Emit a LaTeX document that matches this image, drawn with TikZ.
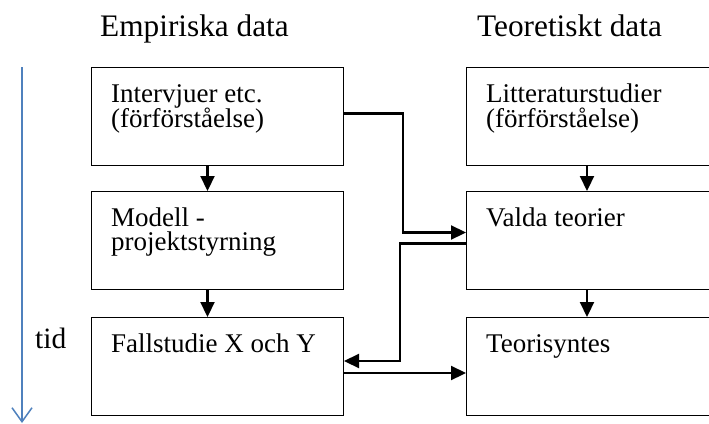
\documentclass[tikz,border=0pt]{standalone}
\usepackage{fontspec}
\setmainfont{Liberation Serif}
\usetikzlibrary{arrows.meta,calc}
\definecolor{timeblue}{RGB}{79,129,189}
% two-line label whose baseline is the first line
\newcommand{\twolines}[2]{\begin{tabular}[t]{@{}l@{}}#1\\[-2.5pt]#2\end{tabular}}
\begin{document}
\begin{tikzpicture}[x=1pt,y=-1pt,
  box/.style={draw,line width=1pt,minimum width=252pt,minimum height=98pt,
    anchor=north west,inner sep=0pt},
  txt/.style={anchor=base west,inner sep=0pt,
    font=\fontsize{27}{27}\selectfont},
  head/.style={anchor=base west,inner sep=0pt,font=\fontsize{31.3}{31.3}\selectfont},
  conn/.style={line width=2.2pt,-{Triangle[length=15pt,width=14pt]}},
  timeaxis/.style={draw=timeblue,line width=1.5pt,-{Straight Barb[length=14pt,width=20pt,line width=1.5pt]}}
]
\useasboundingbox (0,0) rectangle (709,423);

% headers
\node[head] (hL) at (100,36) {Empiriska data};
\node[head] (hR) at (477,36) {Teoretiskt data};

% left column
\node[box] (L1) at (91,67) {};
\node[box] (L2) at (91,191) {};
\node[box] (L3) at (91,317) {};
% right column
\node[box] (R1) at (466,67) {};
\node[box] (R2) at (466,191) {};
\node[box] (R3) at (466,317) {};

% box texts
\node[txt] (tL1) at ($(L1.north west)+(20,35)$) {\twolines{Intervjuer etc.}{(förförståelse)}};
\node[txt] (tL2) at ($(L2.north west)+(20,35)$) {\twolines{Modell -}{projektstyrning}};
\node[txt] (tL3) at ($(L3.north west)+(20,35)$) {Fallstudie X och Y};
\node[txt] (tR1) at ($(R1.north west)+(20,35)$) {\twolines{Litteraturstudier}{(förförståelse)}};
\node[txt] (tR2) at ($(R2.north west)+(20,35)$) {Valda teorier};
\node[txt] (tR3) at ($(R3.north west)+(20,35)$) {Teorisyntes};

% time axis
\node[head,font=\fontsize{29.5}{29.5}\selectfont] (tid) at (35,348) {tid};
\coordinate (tTop) at (22,67);
\coordinate (tBot) at (22,423);
\draw[timeaxis] (tTop) -- (tBot);

% vertical flow
\draw[conn] ([xshift=-10pt]L1.south) -- ([xshift=-10pt]L2.north);
\draw[conn] ([xshift=-10pt]L2.south) -- ([xshift=-10pt]L3.north);
\draw[conn] ([xshift=-5.5pt]R1.south) -- ([xshift=-5.5pt]R2.north);
\draw[conn] ([xshift=-5.5pt]R2.south) -- ([xshift=-5.5pt]R3.north);

% cross links
\coordinate (k1) at (403,170);
\coordinate (k2) at (400,300);
\draw[conn] ([yshift=3pt]L1.east) -| (k1) |- ([yshift=8pt]R2.west);
\draw[conn] ([yshift=-3pt]R2.west) -| (k2) |- ([yshift=5.5pt]L3.east);
\draw[conn] ([yshift=-6.5pt]L3.east) -- ([yshift=-6.5pt]R3.west);
\end{tikzpicture}
\end{document}
